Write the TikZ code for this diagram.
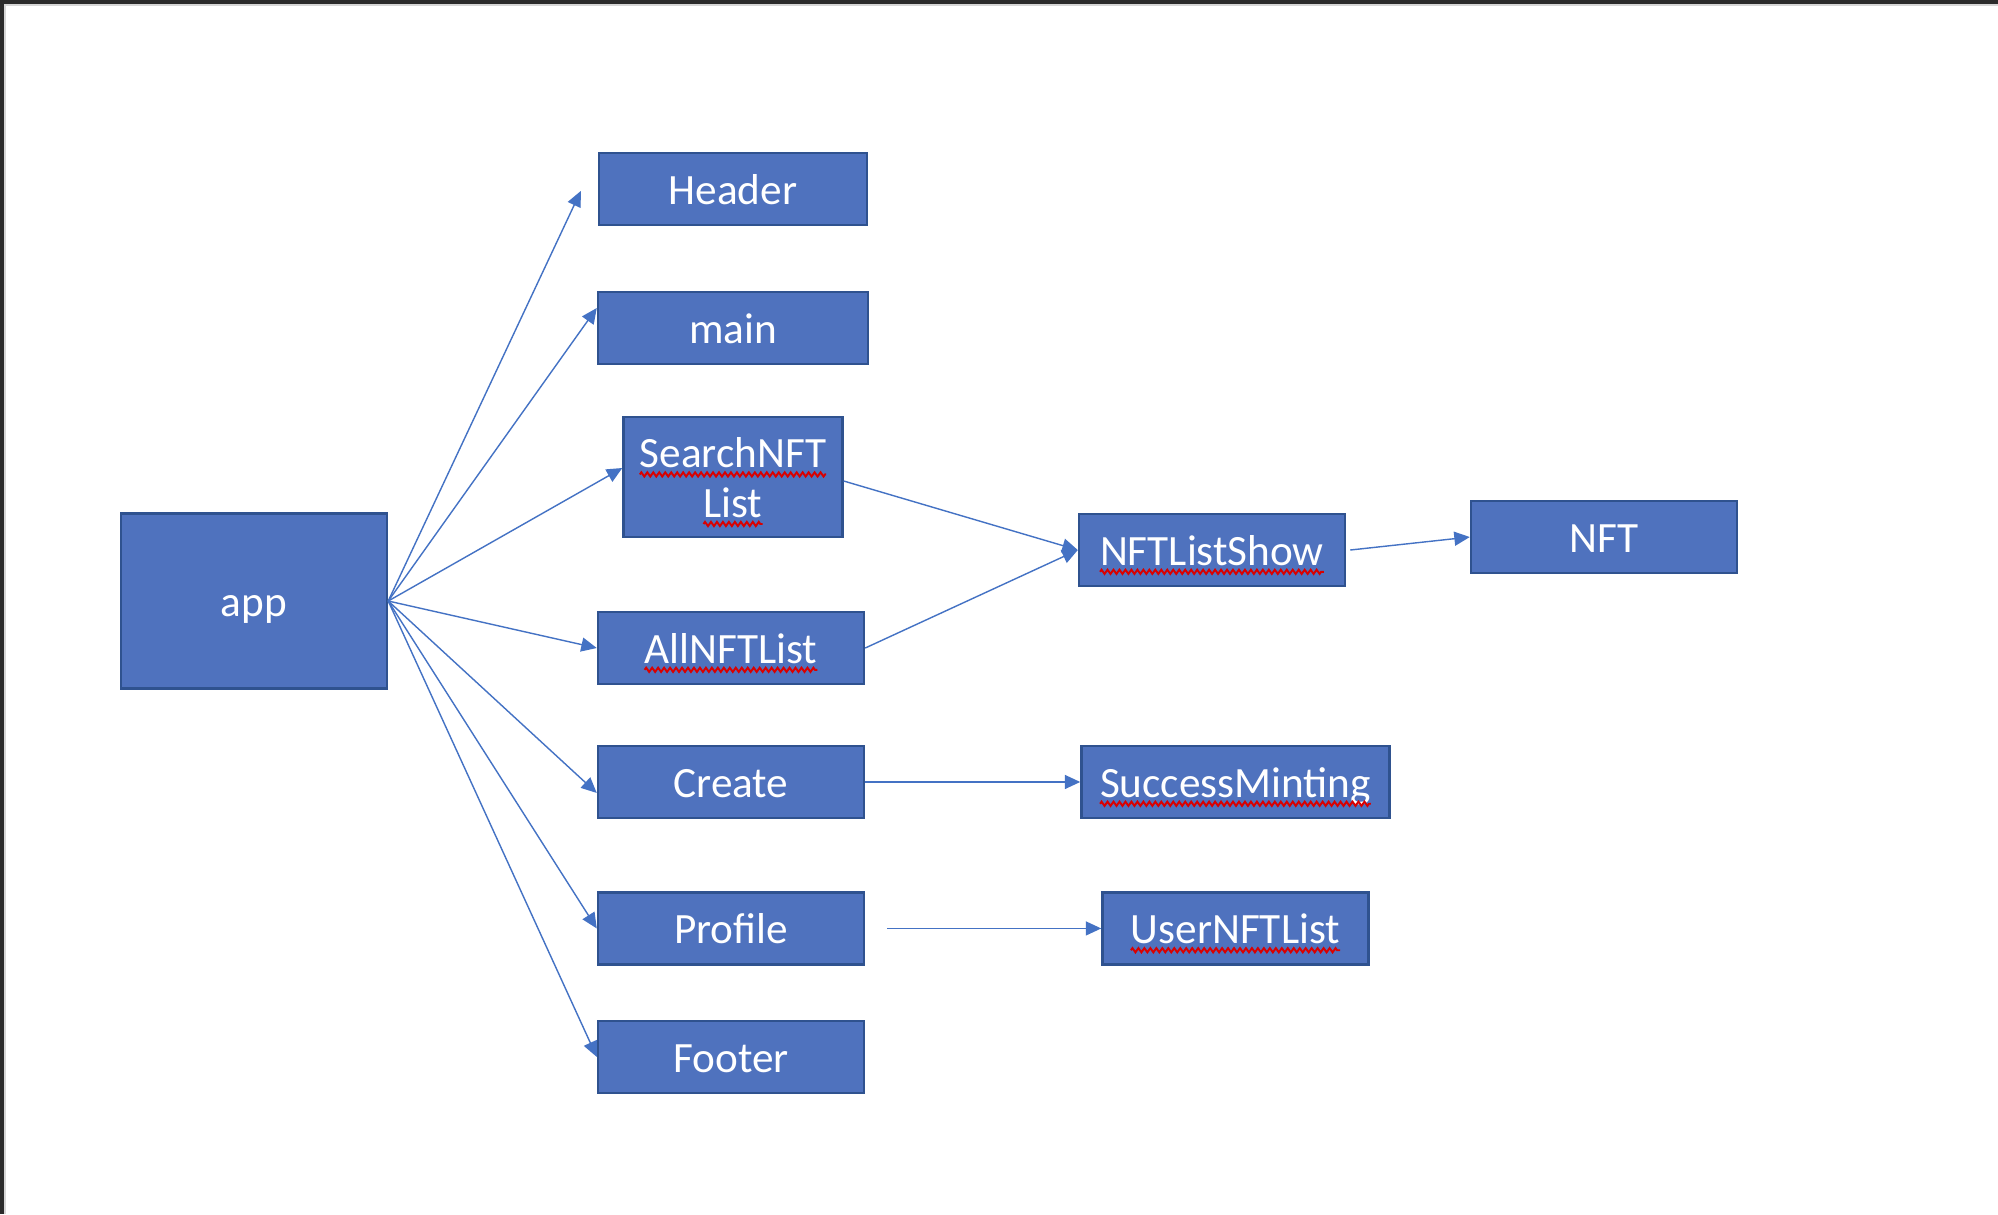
\documentclass[tikz,border=0pt]{standalone}
\usepackage{fontspec}
\setmainfont{Carlito}
\usetikzlibrary{arrows.meta,positioning,decorations.pathmorphing}

\definecolor{boxblue}{RGB}{79,114,190}
\definecolor{boxedge}{RGB}{47,82,143}
\definecolor{linkblue}{RGB}{68,114,196}
\definecolor{framedark}{RGB}{43,43,43}
\definecolor{framelight}{RGB}{214,214,214}

% word with a red spell-check squiggle under it
\newcommand{\spell}[1]{\tikz[baseline=(w.base)]{%
  \node[rectangle, draw=none, fill=none, inner sep=0pt, outer sep=0pt,
        minimum width=0pt, minimum height=0pt, text height={}, text depth={},
        anchor=base, text=white] (w) {#1};
  \draw[red!85!black, line width=0.55pt, decorate,
        decoration={zigzag, amplitude=0.6pt, segment length=1.7pt}]
        ([yshift=-1.9pt]w.base west) -- ([yshift=-1.9pt]w.base east);}}

\begin{document}
\begin{tikzpicture}[
    box/.style={rectangle, draw=boxedge, fill=boxblue, line width=0.7pt,
                text=white, font=\fontsize{12.3}{14.1}\selectfont, align=center,
                minimum width=2.66cm, minimum height=0.72cm, inner sep=0pt,
                text height=11.4pt, text depth=2.8pt},
    link/.style={-{Triangle[length=4.4pt, width=4pt]}, draw=linkblue,
                 line width=0.4pt},
]

%% ── Page frame ───────────────────────────────────────────────────────────────
\useasboundingbox (0,0) rectangle (19.98,-12.14);
\fill[white] (0,0) rectangle (19.98,-12.14);
\fill[framedark]  (0,0) rectangle (19.98,-0.04);
\fill[framedark]  (0,0) rectangle (0.037,-12.14);
\fill[framelight] (0.037,-0.04) rectangle (19.98,-0.057);
\fill[framelight] (0.037,-0.04) rectangle (0.057,-12.14);

%% ── Root ─────────────────────────────────────────────────────────────────────
\node[box, minimum height=1.75cm] (ap) at (2.54,-6.01) {app};

%% ── Children of app ──────────────────────────────────────────────────────────
\node[box, minimum width=2.68cm] (hd) at (7.33,-1.89) {Header};
\node[box, minimum width=2.70cm] (mn) at (7.33,-3.28) {main};
\node[box, minimum width=2.19cm, minimum height=1.20cm,
      text height={}, text depth={}] (sn) at (7.33,-4.77)
      {\rule{0pt}{11.6pt}\spell{SearchNFT}\\\spell{List}};
\node[box]                          (al) at (7.31,-6.48) {\spell{AllNFTList}};
\node[box, below=0.595cm of al]     (cr) {Create};
\node[box, below=0.72cm of cr]      (pf) {Profile};
\node[box, below=0.54cm of pf]      (ft) {Footer};

%% ── Second level ─────────────────────────────────────────────────────────────
\node[box]                          (ls) at (12.12,-5.50) {\spell{NFTListShow}};
\node[box]                          (nf) at (16.04,-5.37) {NFT};
\node[box, minimum width=3.08cm, right=2.15cm of cr] (sm) {\spell{SuccessMinting}};
\node[box, right=2.36cm of pf]      (un) {\spell{UserNFTList}};

%% ── Arrows from app ──────────────────────────────────────────────────────────
\draw[link] (ap.east) -- ([xshift=-0.17cm, yshift=-0.02cm]hd.west);
\draw[link] (ap.east) -- ([yshift=0.20cm]mn.west);
\draw[link] (ap.east) -- ([yshift=0.09cm]sn.west);
\draw[link] (ap.east) -- (al.west);
\draw[link] (ap.east) -- ([yshift=-0.11cm]cr.west);
\draw[link] (ap.east) -- (pf.west);
\draw[link] (ap.east) -- (ft.west);

%% ── Other arrows ─────────────────────────────────────────────────────────────
\draw[link] ([yshift=-0.04cm]sn.east) -- (ls.west);
\draw[link] (al.east) -- (ls.west);
\draw[link] ([xshift=0.04cm]ls.east) -- (nf.west);
\draw[link] (cr.east) -- (sm.west);
\draw[link] ([xshift=0.22cm]pf.east) -- (un.west);

\end{tikzpicture}
\end{document}
